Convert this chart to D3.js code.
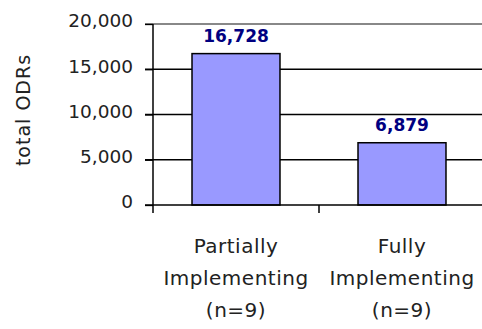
<!DOCTYPE html>
<html><head><meta charset="utf-8">
<script src="https://cdn.jsdelivr.net/npm/d3@7/dist/d3.min.js"></script>
<style>body{margin:0;background:#fff}svg{display:block}</style>
</head><body><svg id="c" width="482" height="329"></svg>
<script>
const categories = [["Partially","Implementing","(n=9)"],["Fully","Implementing","(n=9)"]];
const categoryKeys = ["Partially Implementing (n=9)","Fully Implementing (n=9)"];
const values = [16728, 6879];
const yTicks = [0, 5000, 10000, 15000, 20000];
const yTitle = "total ODRs";

const svg = d3.select("#c");
const L = 153, R = 485, T = 24, B = 205;
const x = d3.scaleBand().domain(categoryKeys).range([L, R]).paddingInner(0.47).paddingOuter(0.235);
const y = d3.scaleLinear().domain([0, 20000]).range([B, T]);
const fmt = d3.format(",");

// gridlines
svg.append("g").selectAll("line").data(yTicks.filter(d => d > 0)).join("line")
  .attr("x1", 145).attr("x2", R).attr("y1", d => y(d)).attr("y2", d => y(d))
  .attr("stroke", d => d === 20000 ? "#888" : "#000")
  .attr("stroke-width", d => d === 20000 ? 2 : 1.3);

// bars
svg.append("g").selectAll("rect").data(values).join("rect")
  .attr("x", (d, i) => x(categoryKeys[i])).attr("width", x.bandwidth())
  .attr("y", d => y(d)).attr("height", d => B - y(d))
  .attr("fill", "#9999FF").attr("stroke", "#000").attr("stroke-width", 1.5);

// value labels
svg.append("g").selectAll("text").data(values).join("text")
  .attr("x", (d, i) => x(categoryKeys[i]) + x.bandwidth() / 2)
  .attr("y", d => y(d) - 12)
  .attr("text-anchor", "middle")
  .attr("font-family", "DejaVu Sans").attr("font-weight", "bold").attr("font-size", 17)
  .attr("fill", "#000080").text(d => fmt(d));

// y axis
const yAxis = d3.axisLeft(y).tickValues(yTicks).tickFormat(fmt).tickSize(8).tickPadding(12);
const gy = svg.append("g").attr("transform", `translate(${L},0)`).call(yAxis);
gy.select(".domain").attr("stroke", "#000").attr("stroke-width", 1.5).attr("d", `M0,${T}V${B}`);
gy.selectAll(".tick line").attr("stroke", "#000").attr("stroke-width", 1.3);
gy.selectAll(".tick text").attr("font-family", "DejaVu Sans").attr("font-size", 18.5)
  .attr("fill", "#222").attr("dy", "0.32em").attr("y", -3);

// x axis
const gx = svg.append("g").attr("transform", `translate(0,${B})`);
gx.append("line").attr("x1", 145).attr("x2", R).attr("stroke", "#000").attr("stroke-width", 1.5);
const bounds = [L, L + x.step(), L + 2 * x.step()];
gx.selectAll("line.tk").data(bounds).join("line").attr("class", "tk")
  .attr("x1", d => d).attr("x2", d => d).attr("y1", 0).attr("y2", 8)
  .attr("stroke", "#000").attr("stroke-width", 1.5);

// category labels
const cl = svg.append("g").selectAll("text").data(categories).join("text")
  .attr("text-anchor", "middle")
  .attr("font-family", "DejaVu Sans").attr("font-size", 20).attr("letter-spacing", 0.5)
  .attr("fill", "#222");
cl.each(function(lines, i) {
  const cx = x(categoryKeys[i]) + x.bandwidth() / 2;
  d3.select(this).selectAll("tspan").data(lines).join("tspan")
    .attr("x", cx).attr("y", (d, j) => 253 + j * 32).text(d => d);
});

// y title
svg.append("text").attr("transform", "translate(30,110) rotate(-90)")
  .attr("text-anchor", "middle").attr("font-family", "DejaVu Sans").attr("font-size", 19)
  .attr("letter-spacing", 1).attr("fill", "#222").text(yTitle);
</script></body></html>
